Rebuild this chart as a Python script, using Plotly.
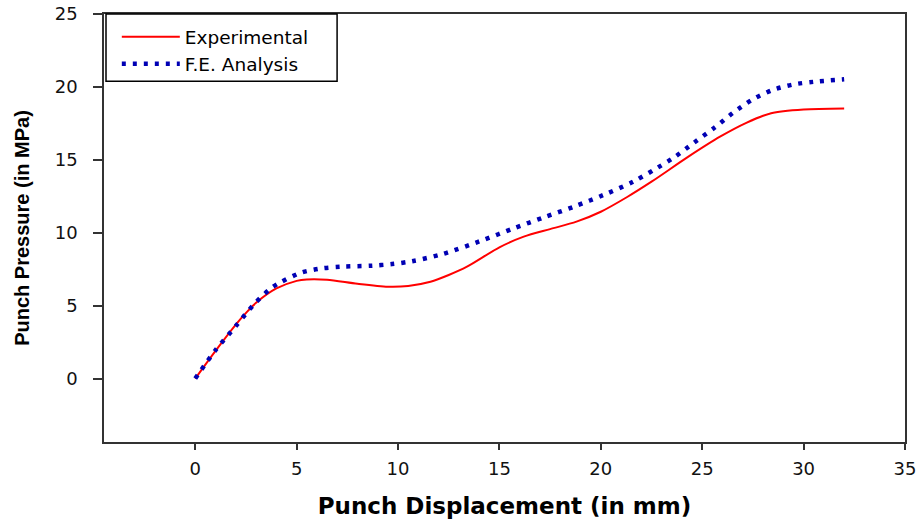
import plotly.graph_objects as go

# Experimental curve (punch displacement mm, punch pressure MPa)
exp_x = [0, 1, 2, 2.55, 3, 4, 5, 5.5, 6.5, 8, 9.5, 10.5, 11.6, 12.5, 13.4, 15,
         16.2, 17.5, 18.8, 20, 21.3, 22.5, 24.3, 25.9, 27.2, 28.4, 30, 32]
exp_y = [0, 1.9, 3.7, 4.57, 5.2, 6.18, 6.7, 6.8, 6.78, 6.5, 6.3, 6.35, 6.64, 7.1, 7.67, 9.0,
         9.73, 10.25, 10.76, 11.44, 12.45, 13.5, 15.2, 16.6, 17.55, 18.2, 18.45, 18.52]

# F.E. Analysis curve
fe_x = [0, 1, 2, 2.9, 3.7, 4.2, 5.2, 6.2, 7.2, 8.7, 9.7, 10.7, 12.2, 14.2, 15.7, 17.2,
        18.7, 20.15, 21.6, 22.6, 23.6, 24.6, 25.6, 26.5, 27.5, 28.5, 29.5, 30.5, 32]
fe_y = [0, 1.95, 3.6, 5.1, 6.15, 6.6, 7.25, 7.55, 7.67, 7.74, 7.85, 8.05, 8.54, 9.5, 10.3, 11.06,
        11.8, 12.6, 13.5, 14.3, 15.15, 16.18, 17.2, 18.2, 19.15, 19.8, 20.17, 20.35, 20.52]

x_ticks = [0, 5, 10, 15, 20, 25, 30, 35]
y_ticks = [0, 5, 10, 15, 20, 25]

fig = go.Figure()
fig.add_trace(go.Scatter(
    x=exp_x, y=exp_y, mode="lines", name="Experimental",
    line=dict(color="#FF0000", width=2, shape="spline", smoothing=0.8),
))
fig.add_trace(go.Scatter(
    x=fe_x, y=fe_y, mode="lines", name="F.E. Analysis",
    line=dict(color="#0000B4", width=4.5, dash="4px,7px", shape="spline", smoothing=0.8),
))

axis_common = dict(
    showgrid=False, zeroline=False, showline=True, linecolor="#333333", linewidth=1.5,
    mirror=True, ticks="outside", tickcolor="#333333", tickwidth=1.5, automargin=False,
    ticklabeloverflow="allow",
    tickfont=dict(family="DejaVu Sans", size=18, color="#111111"),
)

fig.update_layout(
    width=917, height=521,
    margin=dict(l=104, r=12, t=14, b=79),
    paper_bgcolor="white", plot_bgcolor="white",
    xaxis=dict(range=[-4.5, 35], tickvals=x_ticks, ticklen=6, ticklabelstandoff=4,
               title=dict(text="<b>Punch Displacement (in mm)</b>",
                          font=dict(family="DejaVu Sans", size=23, color="black"),
                          standoff=20),
               **axis_common),
    yaxis=dict(range=[-4.35, 25], tickvals=y_ticks, ticklen=9, ticklabelstandoff=12,
               title=dict(text="<b>Punch Pressure (in MPa)</b>",
                          font=dict(family="Liberation Sans, Arial", size=20, color="black"),
                          standoff=20),
               **axis_common),
    legend=dict(x=0.016, y=0.99, xanchor="left", yanchor="top",
                borderwidth=0, bgcolor="rgba(0,0,0,0)",
                font=dict(family="DejaVu Sans", size=18.5, color="black"),
                itemwidth=58),
    showlegend=True,
    shapes=[dict(type="rect", xref="paper", yref="paper",
                 x0=0.0025, x1=0.291, y0=0.843, y1=1.0,
                 line=dict(color="black", width=1.5), fillcolor="rgba(0,0,0,0)",
                 layer="above")],
)

# remove the default 8px page margin so the 917x521 figure fills the window exactly
fig.write_html("out.html",
               config={"displayModeBar": False},
               post_script="document.body.style.margin='0';document.body.style.overflow='hidden';")
